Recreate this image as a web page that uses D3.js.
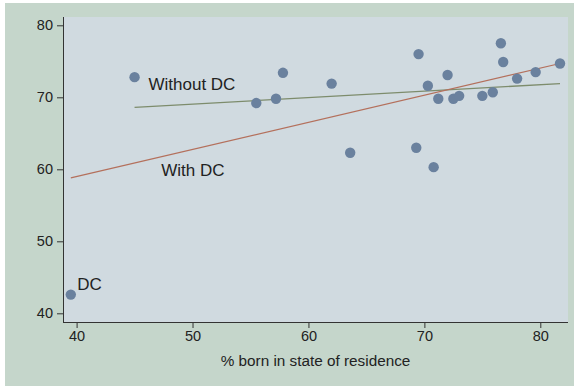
<!DOCTYPE html>
<html>
<head>
<meta charset="utf-8">
<script src="https://cdn.jsdelivr.net/npm/d3@7"></script>
<style>
html,body{margin:0;padding:0;background:#fff;}
svg{display:block;}
text{font-family:"Liberation Sans",Arial,Helvetica,sans-serif;fill:#222;}
</style>
</head>
<body>
<svg id="chart" width="574" height="386"></svg>
<script>
// Data: % born in state of residence (x) vs value (y)
const xs = [39.5, 45.0, 55.5, 57.2, 57.8, 62.0, 63.6, 69.3, 69.5, 70.3, 70.8, 71.2, 72.0, 72.5, 73.0, 75.0, 75.9, 76.6, 76.8, 78.0, 79.6, 81.7];
const ys = [42.6, 72.8, 69.2, 69.8, 73.4, 71.9, 62.3, 63.0, 76.0, 71.6, 60.3, 69.8, 73.1, 69.8, 70.2, 70.2, 70.7, 77.5, 74.9, 72.6, 73.5, 74.7];
// Fit lines (endpoints)
const fitWithoutX = [45.0, 81.7];
const fitWithoutY = [68.6, 71.9];
const fitWithX = [39.5, 81.7];
const fitWithY = [58.8, 74.7];
// Annotations
const noteText = ["Without DC", "With DC", "DC"];
const noteX = [46.2, 47.3, 40.05];
const noteY = [71.0, 59.1, 43.2];
// Ticks
const xTicks = [40, 50, 60, 70, 80];
const yTicks = [40, 50, 60, 70, 80];
const xTitle = "% born in state of residence";

const svg = d3.select("#chart");
// outer background
svg.append("rect").attr("x",5).attr("y",3).attr("width",569).attr("height",383).attr("fill","#c5d6cb");
const L=63, R=568, T=17, B=322;
svg.append("rect").attr("x",L).attr("y",T).attr("width",R-L).attr("height",B-T).attr("fill","#d0dae0");

const x = d3.scaleLinear().domain([40,80]).range([76.6,540.3]);
const y = d3.scaleLinear().domain([40,80]).range([313.3,25.3]);

// axes
const xAxis = d3.axisBottom(x).tickValues(xTicks).tickSize(6).tickPadding(3).tickSizeOuter(0);
const gx = svg.append("g").attr("transform",`translate(0,${B})`).call(xAxis);
gx.select(".domain").remove();
gx.selectAll("line").attr("stroke","#333");
gx.selectAll("text").attr("font-size",14.5).style("fill","#222").attr("font-family","Liberation Sans, Arial, sans-serif");
svg.append("line").attr("x1",L).attr("x2",R).attr("y1",B+0.5).attr("y2",B+0.5).attr("stroke","#333");

const yAxis = d3.axisLeft(y).tickValues(yTicks).tickSize(6).tickPadding(4).tickSizeOuter(0);
const gy = svg.append("g").attr("transform",`translate(${L},0)`).call(yAxis);
gy.select(".domain").remove();
gy.selectAll("line").attr("stroke","#333");
gy.selectAll("text").attr("font-size",14.5).style("fill","#222").attr("font-family","Liberation Sans, Arial, sans-serif");
svg.append("line").attr("x1",L+0.5).attr("x2",L+0.5).attr("y1",T).attr("y2",B).attr("stroke","#333");

// fit lines
const line = d3.line().x(d=>x(d[0])).y(d=>y(d[1]));
svg.append("path").datum(d3.zip(fitWithoutX,fitWithoutY)).attr("d",line).attr("stroke","#7d8c6c").attr("stroke-width",1.3).attr("fill","none");
svg.append("path").datum(d3.zip(fitWithX,fitWithY)).attr("d",line).attr("stroke","#b4705c").attr("stroke-width",1.2).attr("fill","none");

// points
svg.append("g").selectAll("circle").data(d3.zip(xs,ys)).join("circle")
  .attr("cx",d=>x(d[0])).attr("cy",d=>y(d[1])).attr("r",5.2).attr("fill","#6a819e");

// annotations
svg.append("g").selectAll("text").data(d3.zip(noteText,noteX,noteY)).join("text")
  .attr("x",d=>x(d[1])).attr("y",d=>y(d[2])).attr("font-size",17).text(d=>d[0]);

svg.append("text").attr("x",(L+R)/2).attr("y",366).attr("text-anchor","middle").attr("font-size",15.3).text(xTitle);
</script>
</body>
</html>
